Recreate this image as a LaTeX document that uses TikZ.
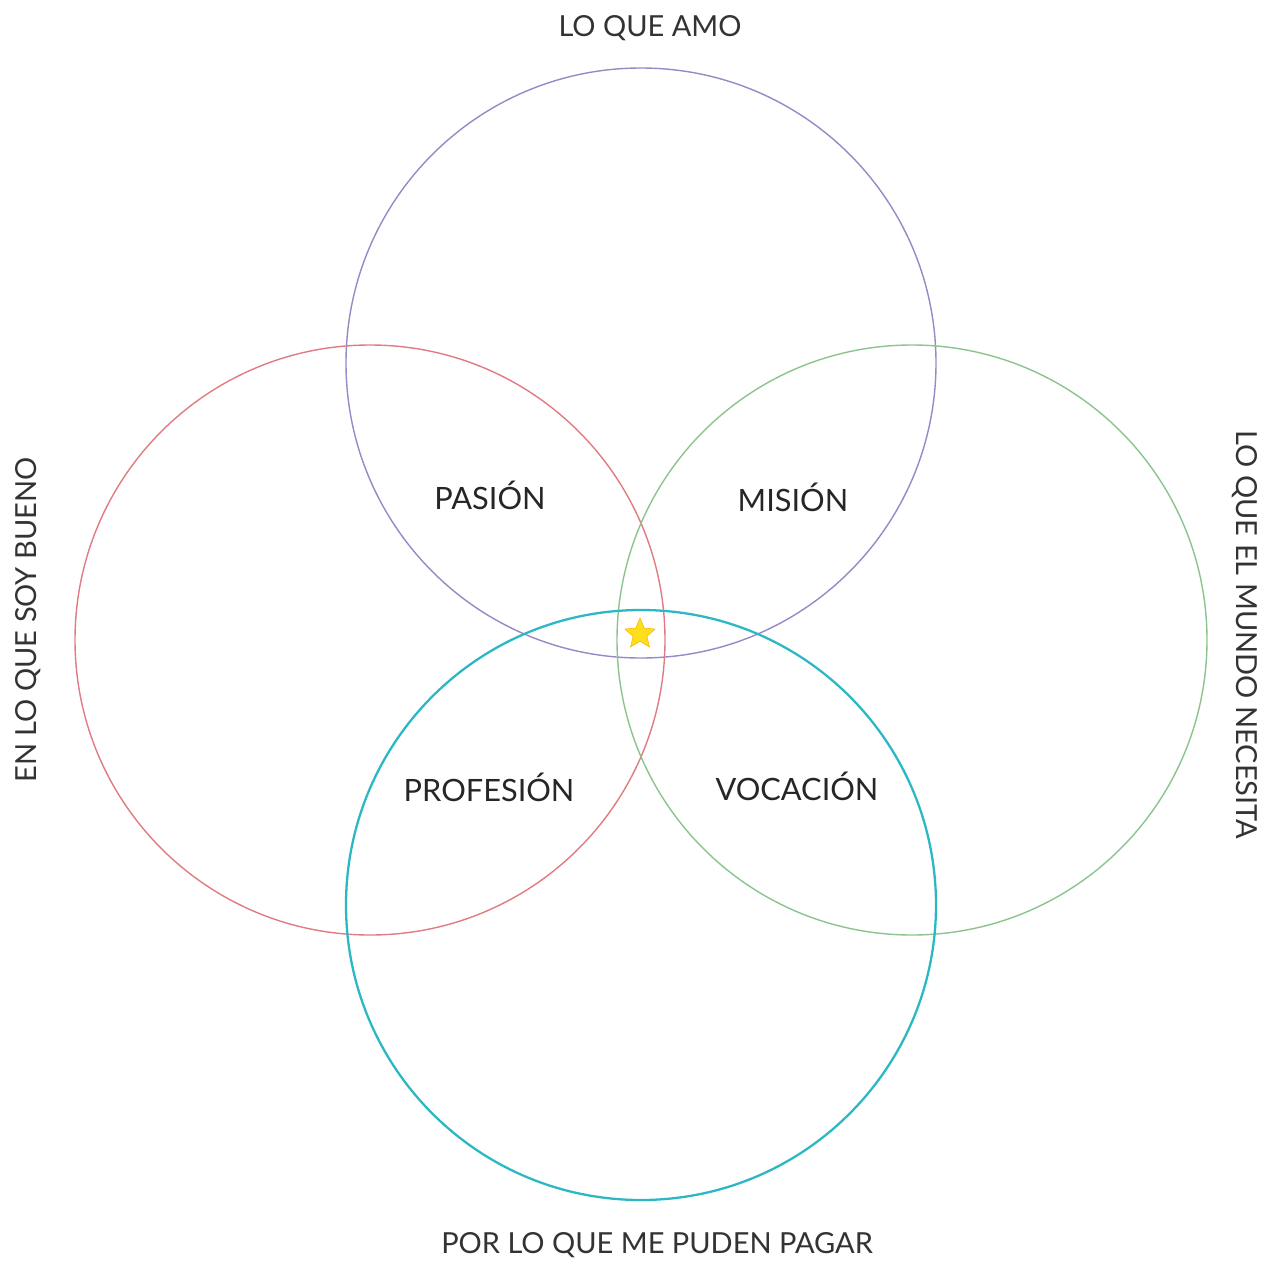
\documentclass[tikz,border=0pt]{standalone}
\usepackage{fontspec}
\setmainfont{Lato}
\usepackage{tikz}
\usetikzlibrary{positioning, shapes.geometric}

\definecolor{amo}{HTML}{9A88C6}
\definecolor{bueno}{HTML}{E07C80}
\definecolor{mundo}{HTML}{8CC48E}
\definecolor{pagar}{HTML}{2BB8C4}

\begin{document}
\begin{tikzpicture}[x=0.02cm, y=-0.02cm,
    etiqueta/.style={font=\fontsize{16.5}{19}\selectfont, text=black!80},
    zona/.style={font=\fontsize{17.5}{20}\selectfont, text=black!85}]
    \useasboundingbox (0,0) rectangle (1268,1265);

    % los cuatro circulos
    \draw[amo, line width=0.8pt] (641,363) circle (295);
    \draw[bueno, line width=0.8pt] (370,640) circle (295);
    \draw[mundo, line width=0.8pt] (912,640) circle (295);
    \draw[pagar, line width=1.3pt] (641,905) circle (295);

    % etiquetas de fuera
    \node[etiqueta] (amo) at (650,28) {LO QUE AMO};
    \node[etiqueta] (pagar) at (657,1245) {POR LO QUE ME PUDEN PAGAR};
    \node[etiqueta, rotate=90] (bueno) at (28,620) {EN LO QUE SOY BUENO};
    \node[etiqueta, rotate=-90] (mundo) at (1245,635) {LO QUE EL MUNDO NECESITA};

    % zonas
    \node[zona] (pasion) at (490,495) {PASIÓN};
    \node[zona] (mision) at (793,497) {MISIÓN};
    \node[zona] (profesion) at (489,787) {PROFESIÓN};
    \node[zona] (vocacion) at (797,786) {VOCACIÓN};

    % estrella del centro
    \node[star, star points=5, star point ratio=2.2, minimum size=0.64cm, inner sep=0pt,
          fill=yellow!80!orange!90, draw=orange!60!yellow, line width=0.3pt] (ikigai) at (640,634) {};
\end{tikzpicture}
\end{document}
